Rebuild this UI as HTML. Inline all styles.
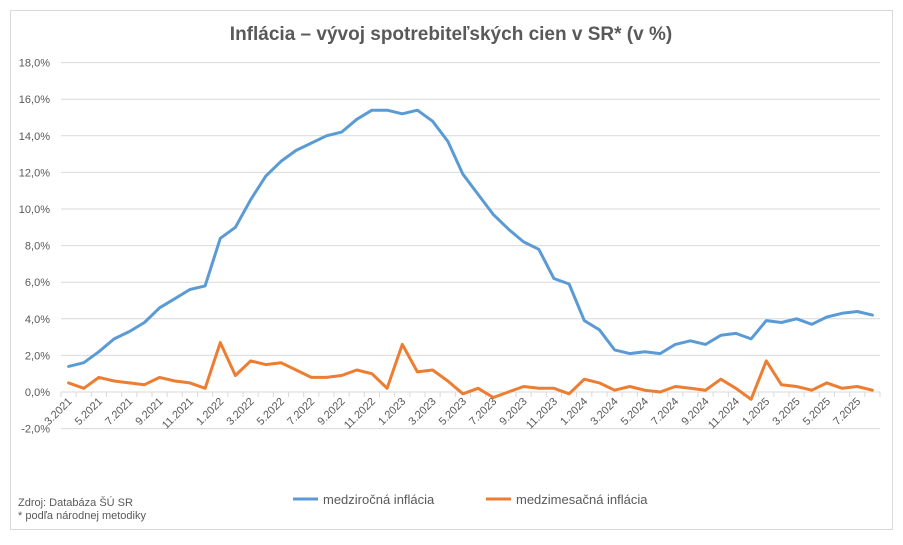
<!DOCTYPE html>
<html><head><meta charset="utf-8"><style>
body{margin:0;background:#fff;}
svg text{font-family:"Liberation Sans",sans-serif;}
</style></head><body>
<svg id="s" width="903" height="540" xmlns="http://www.w3.org/2000/svg">
<rect x="0" y="0" width="903" height="540" fill="#fff"/>
<rect x="10.5" y="10.5" width="882" height="519" fill="#fff" stroke="#d9d9d9"/>
<text x="451" y="40" text-anchor="middle" font-size="19" font-weight="bold" fill="#595959">Inflácia –  vývoj spotrebiteľských cien v SR* (v %)</text>
<g id="g"></g>
<text x="18" y="506" font-size="11" fill="#595959">Zdroj: Databáza ŠÚ SR</text>
<text x="18" y="519" font-size="11" fill="#595959">* podľa národnej metodiky</text>
<line x1="293" y1="499" x2="318" y2="499" stroke="#5b9bd5" stroke-width="3"/>
<text x="323" y="504" font-size="13" fill="#595959">medziročná inflácia</text>
<line x1="486" y1="499" x2="511" y2="499" stroke="#ed7d31" stroke-width="3"/>
<text x="516" y="504" font-size="13" fill="#595959">medzimesačná inflácia</text>
</svg>
<script>
var b=[1.4,1.6,2.2,2.9,3.3,3.8,4.6,5.1,5.6,5.8,8.4,9.0,10.5,11.8,12.6,13.2,13.6,14.0,14.2,14.9,15.4,15.4,15.2,15.4,14.8,13.7,11.9,10.8,9.7,8.9,8.2,7.8,6.2,5.9,3.9,3.4,2.3,2.1,2.2,2.1,2.6,2.8,2.6,3.1,3.2,2.9,3.9,3.8,4.0,3.7,4.1,4.3,4.4,4.2];
var o=[0.5,0.2,0.8,0.6,0.5,0.4,0.8,0.6,0.5,0.2,2.7,0.9,1.7,1.5,1.6,1.2,0.8,0.8,0.9,1.2,1.0,0.2,2.6,1.1,1.2,0.6,-0.1,0.2,-0.3,0.0,0.3,0.2,0.2,-0.1,0.7,0.5,0.1,0.3,0.1,0.0,0.3,0.2,0.1,0.7,0.2,-0.4,1.7,0.4,0.3,0.1,0.5,0.2,0.3,0.1];
var L=61,R=880,n=54,w=(R-L)/n;
function Y(v){return 392-v*18.3;}
function X(i){return L+w*(i+0.5);}
var h='';
for(var v=-2;v<=18;v+=2){var y=Y(v);
 h+='<line x1="'+L+'" x2="'+R+'" y1="'+y+'" y2="'+y+'" stroke="#d9d9d9"/>';
 h+='<text x="50" y="'+(y+4)+'" text-anchor="end" font-size="11" fill="#595959">'+v.toFixed(1).replace('.',',')+'%</text>';}
for(var i=0;i<=n;i++){var x=L+w*i;h+='<line x1="'+x+'" x2="'+x+'" y1="392" y2="397" stroke="#d9d9d9"/>';}
var m=3,yr=2021;
for(var i=0;i<n;i++){
 if(i%2==0){var x=X(i);h+='<text transform="translate('+(x+4)+',402) rotate(-45)" text-anchor="end" font-size="11" fill="#595959">'+m+'.'+yr+'</text>';}
 m++;if(m>12){m=1;yr++;}}
function p(a,c){var d='';for(var i=0;i<a.length;i++)d+=(i?'L':'M')+X(i).toFixed(1)+','+Y(a[i]).toFixed(1);
 return '<path d="'+d+'" fill="none" stroke="'+c+'" stroke-width="3" stroke-linejoin="round" stroke-linecap="round"/>';}
h+=p(o,'#ed7d31')+p(b,'#5b9bd5');
document.getElementById('g').innerHTML=h;
</script>
</body></html>
